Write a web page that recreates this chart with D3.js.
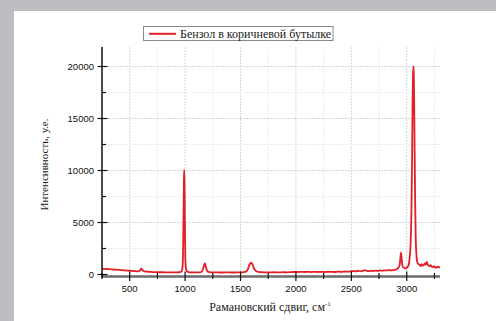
<!DOCTYPE html>
<html><head><meta charset="utf-8">
<script src="https://cdn.jsdelivr.net/npm/d3@7"></script>
<style>html,body{margin:0;padding:0;background:#bcbdc0;}svg{display:block;}</style>
</head><body>
<svg id="chart" width="496" height="321"></svg>
<script>
// Raman shift (cm^-1)
const shift = [250,270,290,310,330,350,370,390,410,430,450,470,490,510,530,550,570,585,595,605,615,625,640,660,680,700,720,740,760,780,800,820,840,860,880,900,920,940,955,965,972,978,982,986,989,992,995,998,1001,1005,1010,1018,1030,1050,1080,1110,1130,1145,1155,1165,1172,1178,1184,1190,1198,1210,1230,1260,1300,1340,1380,1420,1460,1500,1530,1550,1565,1575,1585,1595,1605,1615,1625,1640,1660,1690,1720,1760,1800,1840,1880,1920,1960,2000,2020,2050,2080,2110,2140,2170,2200,2230,2260,2290,2320,2350,2380,2410,2440,2470,2500,2520,2540,2560,2580,2600,2620,2640,2660,2680,2700,2720,2740,2760,2780,2800,2820,2840,2860,2880,2900,2915,2925,2935,2942,2948,2954,2960,2970,2985,3000,3015,3025,3035,3042,3048,3052,3056,3059,3063,3067,3071,3076,3081,3088,3095,3105,3115,3125,3135,3145,3155,3165,3172,3180,3188,3195,3205,3215,3225,3235,3245,3255,3265,3275,3285,3300];
// Intensity (a.u.)
const intensity = [560,540,530,520,500,480,470,455,440,420,400,380,370,350,335,320,310,330,430,560,440,330,290,270,250,240,230,225,220,215,215,210,205,205,200,205,210,215,225,260,380,900,2500,6000,9000,10050,8500,5000,2200,900,450,300,230,210,200,200,210,240,350,650,950,1060,920,620,360,250,210,200,195,190,200,190,195,200,220,280,460,780,1030,1150,1040,780,520,330,250,220,210,205,215,200,225,210,230,250,235,260,240,255,235,260,240,255,235,265,250,240,275,255,290,270,300,330,300,360,310,340,420,340,320,360,340,370,350,390,370,400,390,420,400,430,460,560,660,880,1500,2100,1550,880,660,600,650,850,1500,3000,6000,11000,16000,19000,20000,19500,16500,12000,7000,3500,1800,1200,1000,950,800,1000,850,900,1100,950,1200,1000,850,800,900,750,700,800,700,650,750,700,680];
const xTicks = [500,1000,1500,2000,2500,3000];
const yTicks = [0,5000,10000,15000,20000];
const seriesName = "Бензол в коричневой бутылке";
const xTitle = "Рамановский сдвиг, см";
const yTitle = "Интенсивность, у.е.";

const svg = d3.select("#chart");
svg.append("rect").attr("x",14).attr("y",11).attr("width",482).attr("height",310).attr("fill","#fff");

const x = d3.scaleLinear().domain([250,3300]).range([102,440]);
const y = d3.scaleLinear().domain([0,20000]).range([274.5,66.5]);
const yTop = y.invert(47), yBot = y.invert(276.5);

const g = svg.append("g");
// grid
const xMinor = d3.range(250,3300.1,250);
const yMinor = d3.range(0,21000,2500);
g.selectAll(".gx").data(xMinor).enter().append("line")
  .attr("x1",d=>x(d)).attr("x2",d=>x(d)).attr("y1",y(yTop)).attr("y2",y(yBot))
  .attr("stroke",d=>d%500===0?"#d6d6d6":"#ececec").attr("stroke-width",1).attr("stroke-dasharray","2,1");
g.selectAll(".gy").data(yMinor.filter(d=>d>0)).enter().append("line")
  .attr("x1",102).attr("x2",440).attr("y1",d=>y(d)).attr("y2",d=>y(d))
  .attr("stroke",d=>d%5000===0?"#d6d6d6":"#ececec").attr("stroke-width",1).attr("stroke-dasharray","2,1");

// line
const pts = shift.map((s,i)=>[s,intensity[i]]);
g.append("path").datum(pts)
  .attr("d",d3.line().x(d=>x(d[0])).y(d=>y(d[1])).curve(d3.curveMonotoneX))
  .attr("fill","none").attr("stroke","#e41e26").attr("stroke-width",1.8).attr("stroke-linejoin","round");

// x axis
g.append("line").attr("x1",102).attr("x2",440).attr("y1",276.5).attr("y2",276.5).attr("stroke","#6b6b6b").attr("stroke-width",2.5);
g.selectAll(".xt").data(xMinor).enter().append("line")
  .attr("x1",d=>x(d)).attr("x2",d=>x(d))
  .attr("y1",d=>d%500===0?271.5:273).attr("y2",d=>d%500===0?281:279)
  .attr("stroke","#111").attr("stroke-width",1.2);
g.selectAll(".xl").data(xTicks).enter().append("text")
  .attr("x",d=>x(d)).attr("y",291.5).attr("text-anchor","middle")
  .attr("font-family","Liberation Sans, Arial, sans-serif").attr("font-size",9.5).attr("fill","#111").text(d=>d);

// y axis
g.append("line").attr("x1",102).attr("x2",102).attr("y1",47).attr("y2",277.5).attr("stroke","#111").attr("stroke-width",1.5);
g.selectAll(".yt").data(yMinor).enter().append("line")
  .attr("x1",d=>d%5000===0?97.5:102).attr("x2",d=>d%5000===0?107.5:106)
  .attr("y1",d=>y(d)).attr("y2",d=>y(d)).attr("stroke","#111").attr("stroke-width",1.2);
g.selectAll(".yl").data(yTicks).enter().append("text")
  .attr("x",94).attr("y",d=>y(d)+3.4).attr("text-anchor","end")
  .attr("font-family","Liberation Sans, Arial, sans-serif").attr("font-size",9.5).attr("fill","#111").text(d=>d);

// titles
const xt = svg.append("text").attr("x",270).attr("y",311).attr("text-anchor","middle")
  .attr("font-family","Liberation Serif, Times New Roman, serif").attr("font-size",12).attr("fill","#222");
xt.append("tspan").text(xTitle);
xt.append("tspan").attr("font-size",7).attr("dy",-5).text("-1");
svg.append("text").attr("transform","translate(48,164.5) rotate(-90)").attr("text-anchor","middle")
  .attr("font-family","Liberation Serif, Times New Roman, serif").attr("font-size",11).attr("fill","#222").text(yTitle);

// legend
svg.append("rect").attr("x",143.5).attr("y",26.5).attr("width",189.5).attr("height",14).attr("fill","#fff").attr("stroke","#8a8a8a").attr("stroke-width",1);
svg.append("line").attr("x1",149).attr("x2",176).attr("y1",33.8).attr("y2",33.8).attr("stroke","#e41e26").attr("stroke-width",2);
svg.append("text").attr("x",180).attr("y",37.8).attr("font-family","Liberation Serif, Times New Roman, serif").attr("font-size",12).attr("fill","#222").text(seriesName);
</script>
</body></html>
